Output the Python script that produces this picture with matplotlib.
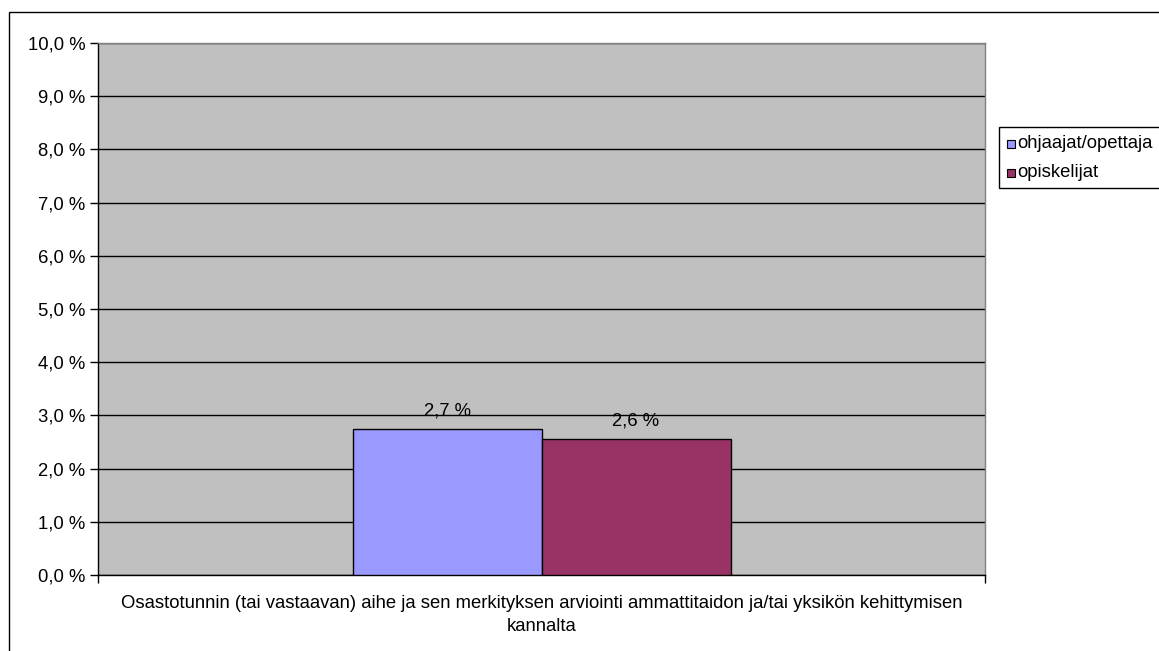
import matplotlib
matplotlib.use("Agg")
import matplotlib.pyplot as plt
from matplotlib.patches import Rectangle
import numpy as np

plt.rcParams['font.family'] = ['Liberation Sans', 'DejaVu Sans']

categories = ["Osastotunnin (tai vastaavan) aihe ja sen merkityksen arviointi ammattitaidon ja/tai yksikön kehittymisen\nkannalta"]
series_names = ["ohjaajat/opettaja", "opiskelijat"]
series_values = [[2.74], [2.56]]
value_labels = [["2,7 %"], ["2,6 %"]]
series_colors = ["#9999FF", "#993366"]
yticks = np.arange(0, 11, 1)
ytick_labels = [f"{v:.1f} %".replace(".", ",") for v in yticks]

W, H = 1159, 651
FS = 13.3
fig = plt.figure(figsize=(W / 100, H / 100), dpi=100)
fig.patch.set_facecolor("white")

def fx(px):
    return px / W

def fy(py):
    return 1 - py / H

left, right, top, bottom = 98, 985, 43, 575
ax = fig.add_axes([fx(left), fy(bottom), fx(right - left), (bottom - top) / H])
ax.set_facecolor("#C0C0C0")

x = np.arange(len(categories))
bw = 189 / 887
for i, (name, vals, col) in enumerate(zip(series_names, series_values, series_colors)):
    pos = x + (i - 0.5) * bw
    bars = ax.bar(pos, vals, width=bw, color=col, edgecolor="black", linewidth=1, label=name, zorder=3)
    for b, lab in zip(bars, value_labels[i]):
        ax.annotate(lab, (b.get_x() + b.get_width() / 2, b.get_height()),
                    xytext=(0, 13), textcoords="offset points",
                    ha="center", va="center", fontsize=FS, zorder=4)

ax.set_xlim(-0.5, 0.5)
ax.set_ylim(0, 10)
ax.set_yticks(yticks)
ax.set_yticklabels(ytick_labels, fontsize=FS)
ax.yaxis.grid(True, color="black", linewidth=1, zorder=1)
ax.set_axisbelow(True)
ax.set_xticks([-0.5, 0.5])
ax.set_xticklabels(["", ""])
ax.tick_params(axis="y", direction="out", length=6, width=1, pad=3, colors="black")
ax.tick_params(axis="x", direction="out", length=6, width=1)

# category label (two lines, centred under the plot area)
cx = fx((left + right) / 2)
for line, base in zip(categories[0].split("\n"), [608, 631]):
    fig.text(cx, fy(base), line, ha="center", va="baseline", fontsize=FS)

for s in ["left", "bottom"]:
    ax.spines[s].set_color("black")
    ax.spines[s].set_linewidth(1)
for s in ["top", "right"]:
    ax.spines[s].set_color("#808080")
    ax.spines[s].set_linewidth(1)

# outer chart border (extends past the image on right/bottom)
fig.patches.append(Rectangle((fx(9), fy(660)), fx(1170 - 9), (660 - 12) / H,
                             transform=fig.transFigure, fill=False, edgecolor="black", linewidth=1))

# legend (manually placed, frame runs off the right edge)
fig.patches.append(Rectangle((fx(999), fy(188)), fx(1170 - 999), (188 - 127) / H,
                             transform=fig.transFigure, fill=True, facecolor="white",
                             edgecolor="black", linewidth=1))
leg_y = [144, 173]
for name, col, yy in zip(series_names, series_colors, leg_y):
    fig.patches.append(Rectangle((fx(1007), fy(yy + 4)), fx(8), 8 / H, transform=fig.transFigure,
                                 facecolor=col, edgecolor="black", linewidth=0.8))
    fig.text(fx(1017), fy(yy), name, ha="left", va="center", fontsize=FS)

fig.savefig("out.png", dpi=100)
